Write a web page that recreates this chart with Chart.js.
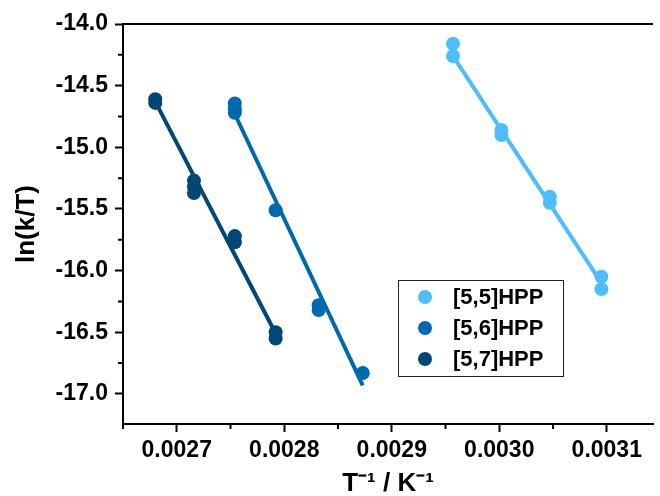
<!DOCTYPE html>
<html>
<head>
<meta charset="utf-8">
<script src="https://cdn.jsdelivr.net/npm/chart.js@4.4.1/dist/chart.umd.min.js"></script>
<style>
  html, body { margin: 0; padding: 0; background: #fff; }
</style>
</head>
<body>
<canvas id="arrhenius" width="660" height="496"></canvas>
<script>
// values: x = 1/T (K^-1), y = ln(k/T)
const seriesNames = ['[5,5]HPP', '[5,6]HPP', '[5,7]HPP'];
const seriesColors = ['#4fbdfc', '#0068ad', '#004776'];

const hpp55X = [0.002957, 0.002957, 0.003002, 0.003002, 0.003047, 0.003047, 0.003095, 0.003095];
const hpp55Y = [-14.16, -14.26, -14.86, -14.90, -15.40, -15.45, -16.05, -16.15];
const hpp56X = [0.002754, 0.002754, 0.002754, 0.002792, 0.002832, 0.002832, 0.002873];
const hpp56Y = [-14.645, -14.69, -14.72, -15.51, -16.28, -16.32, -16.83];
const hpp57X = [0.002680, 0.002680, 0.002716, 0.002716, 0.002716, 0.002754, 0.002754, 0.002792, 0.002792];
const hpp57Y = [-14.61, -14.64, -15.27, -15.32, -15.37, -15.72, -15.77, -16.50, -16.55];

// linear fits, start and end points
const fit55X = [0.002957, 0.003095];
const fit55Y = [-14.26, -16.10];
const fit56X = [0.002754, 0.002873];
const fit56Y = [-14.73, -16.93];
const fit57X = [0.002680, 0.002792];
const fit57Y = [-14.63, -16.51];

// axis ranges and ticks
const xMin = 0.00265, xMax = 0.003143;
const yMin = -17.244, yMax = -14.0;
const xTicks = [0.0027, 0.0028, 0.0029, 0.0030, 0.0031];
const xMinorTicks = [0.00265, 0.00275, 0.00285, 0.00295, 0.00305];
const yTicks = [-14.0, -14.5, -15.0, -15.5, -16.0, -16.5, -17.0];
const yMinorTicks = [-14.25, -14.75, -15.25, -15.75, -16.25, -16.75];

const FONT = '"Liberation Sans", Arial, sans-serif';

function toPoints(xs, ys) {
  return xs.map((x, i) => ({ x: x, y: ys[i] }));
}

function scatterSet(i, xs, ys) {
  return {
    label: seriesNames[i],
    data: toPoints(xs, ys),
    backgroundColor: seriesColors[i],
    borderColor: seriesColors[i],
    borderWidth: 0,
    pointRadius: 7,
    showLine: false,
    order: 0
  };
}

function fitSet(i, xs, ys) {
  return {
    label: seriesNames[i] + ' fit',
    fitLine: true,
    data: toPoints(xs, ys),
    borderColor: seriesColors[i],
    backgroundColor: seriesColors[i],
    borderWidth: 4,
    pointRadius: 0,
    showLine: true,
    order: 1
  };
}

// top frame line + minor ticks
const frameExtras = {
  id: 'frameExtras',
  afterDraw(chart) {
    const { ctx, chartArea, scales } = chart;
    ctx.save();
    ctx.strokeStyle = '#000';
    ctx.lineWidth = 2;
    ctx.beginPath();
    ctx.moveTo(chartArea.left - 1, chartArea.top);
    ctx.lineTo(chartArea.right, chartArea.top);
    ctx.stroke();

    ctx.beginPath();
    xMinorTicks.forEach(v => {
      const px = scales.x.getPixelForValue(v);
      ctx.moveTo(px, chartArea.bottom);
      ctx.lineTo(px, chartArea.bottom + 5);
    });
    yMinorTicks.forEach(v => {
      const py = scales.y.getPixelForValue(v);
      ctx.moveTo(chartArea.left, py);
      ctx.lineTo(chartArea.left - 5, py);
    });
    ctx.stroke();
    ctx.restore();
  }
};

// boxed legend inside the plot
const boxLegend = {
  id: 'boxLegend',
  afterDraw(chart) {
    const ctx = chart.ctx;
    const items = chart.data.datasets.filter(d => !d.fitLine);
    ctx.save();
    ctx.strokeStyle = '#222';
    ctx.lineWidth = 1;
    ctx.strokeRect(398.5, 280.5, 165, 96);
    ctx.font = 'bold 22px ' + FONT;
    ctx.textBaseline = 'middle';
    items.forEach((d, i) => {
      const y = 297 + i * 31;
      ctx.beginPath();
      ctx.arc(425, y, 7, 0, Math.PI * 2);
      ctx.fillStyle = d.backgroundColor;
      ctx.fill();
      ctx.fillStyle = '#000';
      ctx.fillText(d.label, 453, y + 1);
    });
    ctx.restore();
  }
};

new Chart(document.getElementById('arrhenius'), {
  type: 'scatter',
  data: {
    datasets: [
      scatterSet(0, hpp55X, hpp55Y),
      scatterSet(1, hpp56X, hpp56Y),
      scatterSet(2, hpp57X, hpp57Y),
      fitSet(0, fit55X, fit55Y),
      fitSet(1, fit56X, fit56Y),
      fitSet(2, fit57X, fit57Y)
    ]
  },
  options: {
    responsive: false,
    animation: false,
    devicePixelRatio: 1,
    layout: { padding: { top: 24, right: 0, left: 0, bottom: 0 } },
    plugins: {
      legend: { display: false },
      tooltip: { enabled: false }
    },
    scales: {
      x: {
        type: 'linear',
        min: xMin,
        max: xMax,
        afterBuildTicks: s => { s.ticks = xTicks.map(v => ({ value: v })); },
        afterFit: s => { s.height = 72; },
        ticks: {
          callback: v => Number(v).toFixed(4),
          color: '#000',
          font: { family: FONT, size: 23, weight: 'bold' },
          padding: 5,
          maxRotation: 0,
          autoSkip: false
        },
        grid: { drawOnChartArea: false, drawTicks: true, tickLength: 8, tickWidth: 2, tickColor: '#000' },
        border: { display: true, color: '#000', width: 2 },
        title: {
          display: true,
          text: 'T\u207B\u00B9 / K\u207B\u00B9',
          color: '#000',
          font: { family: FONT, size: 26, weight: 'bold', lineHeight: 0.92 },
          padding: 0
        }
      },
      y: {
        type: 'linear',
        min: yMin,
        max: yMax,
        afterBuildTicks: s => { s.ticks = yTicks.map(v => ({ value: v })); },
        afterFit: s => { s.width = 123; },
        ticks: {
          callback: v => Number(v).toFixed(1),
          color: '#000',
          font: { family: FONT, size: 23, weight: 'bold' },
          padding: 7,
          autoSkip: false
        },
        grid: { drawOnChartArea: false, drawTicks: true, tickLength: 8, tickWidth: 2, tickColor: '#000' },
        border: { display: true, color: '#000', width: 2 },
        title: {
          display: true,
          text: 'ln(k/T)',
          color: '#000',
          font: { family: FONT, size: 26, weight: 'bold' },
          padding: { top: 11, bottom: 0 }
        }
      }
    }
  },
  plugins: [frameExtras, boxLegend]
});
</script>
</body>
</html>
